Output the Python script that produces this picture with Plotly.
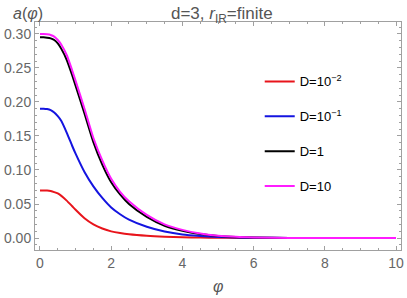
import plotly.graph_objects as go

phi = [0.0, 0.1, 0.2, 0.3, 0.4, 0.5, 0.6, 0.75, 0.9, 1.0, 1.25, 1.5, 1.75, 2.0, 2.25, 2.5, 3.0, 3.5, 4.0, 4.5, 5.0, 5.5, 6.0, 7.0, 8.0, 9.0, 10.0]

a_D001 = [0.070, 0.070, 0.0698, 0.069, 0.0675, 0.0655, 0.062, 0.055, 0.047, 0.0415, 0.029, 0.0200, 0.0140, 0.0098, 0.0073, 0.0055, 0.0033, 0.0020, 0.0012, 0.0007, 0.0004, 0.0002, 0.0001, 0.0, 0.0, 0.0, 0.0]
a_D01 = [0.190, 0.190, 0.1895, 0.188, 0.1845, 0.179, 0.172, 0.155, 0.136, 0.124, 0.097, 0.076, 0.059, 0.045, 0.035, 0.027, 0.0165, 0.0095, 0.0052, 0.0030, 0.0015, 0.0008, 0.0004, 0.0001, 0.0, 0.0, 0.0]
a_D1 = [0.295, 0.295, 0.2945, 0.2935, 0.291, 0.286, 0.278, 0.262, 0.240, 0.224, 0.183, 0.141, 0.108, 0.082, 0.064, 0.050, 0.031, 0.018, 0.0105, 0.0058, 0.0030, 0.0015, 0.0007, 0.0002, 0.0, 0.0, 0.0]
a_D10 = [0.300, 0.300, 0.2995, 0.2985, 0.296, 0.291, 0.284, 0.269, 0.247, 0.231, 0.190, 0.147, 0.114, 0.087, 0.068, 0.054, 0.034, 0.020, 0.0120, 0.0066, 0.0034, 0.0017, 0.0008, 0.0002, 0.0, 0.0, 0.0]

series = [
    ("D=10<sup>\u22122</sup>", a_D001, "#e8141b"),
    ("D=10<sup>\u22121</sup>", a_D01, "#1414e0"),
    ("D=1", a_D1, "#000000"),
    ("D=10", a_D10, "#ff1cff"),
]

x_ticks = [0, 2, 4, 6, 8, 10]
y_ticks = [0.00, 0.05, 0.10, 0.15, 0.20, 0.25, 0.30]
y_tick_text = ["0.00", "0.05", "0.10", "0.15", "0.20", "0.25", "0.30"]

fig = go.Figure()
for i, (name, vals, col) in enumerate(series):
    fig.add_trace(go.Scatter(
        x=phi, y=vals, name=name, mode="lines",
        line=dict(color=col, width=2, shape="spline", smoothing=0.6),
        legendgroup=f"g{i}",
    ))

font = "Liberation Sans, Arial, sans-serif"
axis_common = dict(
    showgrid=False, zeroline=False, showline=True, linecolor="#a0a0a0", linewidth=1,
    mirror="ticks", ticks="inside", ticklen=4, tickcolor="#a0a0a0", tickwidth=1,
    tickfont=dict(family=font, size=14, color="#666666"), automargin=False,
)
fig.update_layout(
    width=407, height=298,
    margin=dict(l=35, r=6, t=22, b=48, autoexpand=False),
    paper_bgcolor="white", plot_bgcolor="white",
    showlegend=True,
    legend=dict(x=0.614, y=0.805, xanchor="left", yanchor="top",
                font=dict(family=font, size=13, color="#000000"),
                bgcolor="rgba(0,0,0,0)", tracegroupgap=15, itemwidth=30),
    title=dict(text="d=3, <i>r</i><sub>IR</sub>=finite", x=0.545, xanchor="center",
               y=0.955, yanchor="middle",
               font=dict(family=font, size=17, color="#555555")),
)
fig.update_xaxes(range=[-0.14, 10.14], tickvals=x_ticks, **axis_common,
                 minor=dict(dtick=0.5, ticks="inside", ticklen=2, tickcolor="#a0a0a0"))
fig.update_yaxes(range=[-0.0176, 0.3175], tickvals=y_ticks, ticktext=y_tick_text, **axis_common,
                 minor=dict(dtick=0.01, ticks="inside", ticklen=2, tickcolor="#a0a0a0"))

fig.add_annotation(text="<i>a</i>(<i>\u03c6</i>)", xref="paper", yref="paper", x=-0.02, y=1.0,
                   xanchor="center", yanchor="bottom", showarrow=False,
                   font=dict(family=font, size=16, color="#555555"), yshift=-2)
fig.add_annotation(text="<i>\u03c6</i>", xref="paper", yref="paper", x=0.5, y=0,
                   xanchor="center", yanchor="top", showarrow=False, yshift=-26,
                   font=dict(family=font, size=16, color="#555555"))

fig.write_html("out.html", config={"displayModeBar": False},
               post_script="document.body.style.margin='0';document.body.style.overflow='hidden';")
